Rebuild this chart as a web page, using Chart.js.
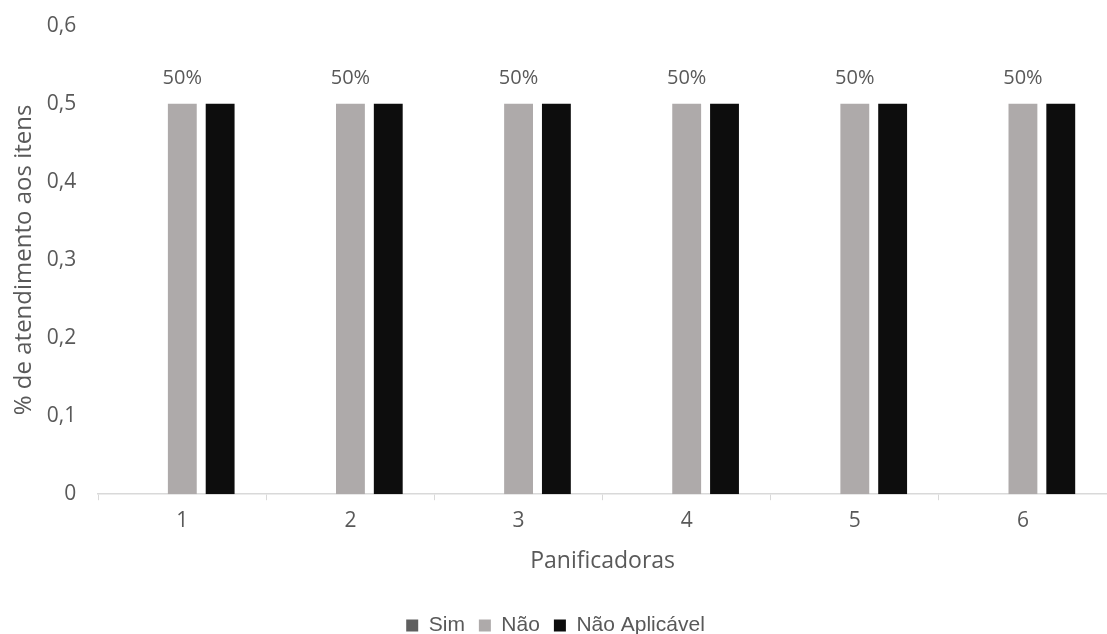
<!DOCTYPE html>
<html>
<head>
<meta charset="utf-8">
<script src="https://cdn.jsdelivr.net/npm/chart.js@4.4.0/dist/chart.umd.min.js"></script>
<style>
  html, body { margin: 0; padding: 0; background: #fff; overflow: hidden; }
  #wrap { position: relative; top: -9px; width: 1107px; height: 643px; }
</style>
</head>
<body>
<div id="wrap"><canvas id="chart"></canvas></div>
<script>
var categories = ["1", "2", "3", "4", "5", "6"];
var sim = [0, 0, 0, 0, 0, 0];
var nao = [0.5, 0.5, 0.5, 0.5, 0.5, 0.5];
var naoAplicavel = [0.5, 0.5, 0.5, 0.5, 0.5, 0.5];
var seriesNames = ["Sim", "Não", "Não Aplicável"];
var seriesColors = ["#5f5f5f", "#aeaaaa", "#0d0d0d"];
var textColor = "#595959";

// "50%" above the Não bars
var valueLabels = {
	id: 'valueLabels',
	afterDatasetsDraw: function(chart) {
		var ctx = chart.ctx;
		var meta = chart.getDatasetMeta(1);
		ctx.save();
		ctx.font = '20px "Open Sans"';
		ctx.fillStyle = textColor;
		ctx.textAlign = 'center';
		ctx.textBaseline = 'middle';
		meta.data.forEach(function(bar, i) {
			var v = chart.data.datasets[1].data[i];
			ctx.fillText(Math.round(v * 100) + '%', bar.x, bar.y - 25);
		});
		ctx.restore();
	}
};

new Chart(document.getElementById('chart'), {
	type: 'bar',
	data: {
		labels: categories,
		datasets: [
			{ label: seriesNames[0], data: sim, backgroundColor: seriesColors[0] },
			{ label: seriesNames[1], data: nao, backgroundColor: seriesColors[1] },
			{ label: seriesNames[2], data: naoAplicavel, backgroundColor: seriesColors[2] }
		]
	},
	options: {
		responsive: true,
		maintainAspectRatio: false,
		animation: false,
		categoryPercentage: 0.675,
		barPercentage: 0.763,
		layout: { padding: { top: 0, right: -4, bottom: -12, left: 0 } },
		plugins: {
			tooltip: { enabled: false },
			legend: {
				position: 'bottom',
				labels: {
					color: textColor,
					font: { family: '"Liberation Sans", Arial', size: 21 },
					boxWidth: 12,
					boxHeight: 12,
					padding: 14
				}
			}
		},
		scales: {
			x: {
				grid: { display: true, drawOnChartArea: false, color: '#d9d9d9', tickLength: 6 },
				border: { color: '#d9d9d9', width: 1.5 },
				ticks: { color: textColor, font: { family: '"Open Sans"', size: 21 }, padding: 8 },
				title: { display: true, text: 'Panificadoras', color: textColor,
					font: { family: '"Open Sans"', size: 23 }, padding: { top: 6, bottom: 26 } }
			},
			y: {
				min: 0,
				max: 0.6,
				grid: { display: false, drawTicks: false, tickLength: 0 },
				border: { display: false },
				ticks: {
					stepSize: 0.1,
					color: textColor,
					font: { family: '"Open Sans"', size: 21 },
					padding: 22,
					callback: function(v) { return v === 0 ? '0' : v.toFixed(1).replace('.', ','); }
				},
				title: { display: true, text: '% de atendimento aos itens', color: textColor,
					font: { family: '"Open Sans"', size: 24 }, padding: { top: 10, bottom: -14 } }
			}
		}
	},
	plugins: [valueLabels]
});
</script>
</body>
</html>
